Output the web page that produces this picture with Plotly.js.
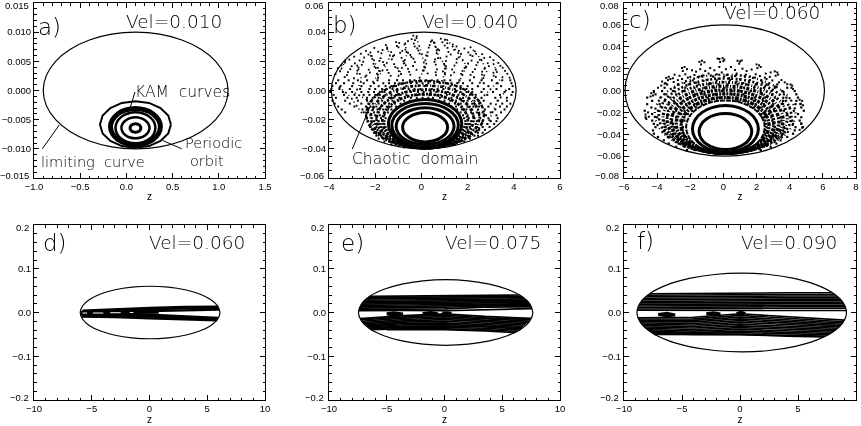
<!DOCTYPE html>
<html><head><meta charset="utf-8">
<script src="https://cdn.plot.ly/plotly-3.0.1.min.js"></script>
<style>html,body{margin:0;padding:0;background:#fff}#plot{width:861px;height:426px;filter:blur(0.35px)}</style>
</head><body><div id="plot"></div>
<script>
// ---------- limiting curves
const limitAZ=[1.1,1.066,.966,.807,.6,.359,.1,-.159,-.4,-.607,-.766,-.866,-.9,-.866,-.766,-.607,-.4,-.159,.1,.359,.6,.807,.966,1.066,1.1];
const limitAV=[0,.00259,.005,.00707,.00866,.00966,.01,.00966,.00866,.00707,.005,.00259,0,-.00259,-.005,-.00707,-.00866,-.00966,-.01,-.00966,-.00866,-.00707,-.005,-.00259,0];
const limitBZ=[4.1,3.96,3.56,2.93,2.1,1.14,.1,-.94,-1.9,-2.73,-3.36,-3.76,-3.9,-3.76,-3.36,-2.73,-1.9,-.94,.1,1.14,2.1,2.93,3.56,3.96,4.1];
const limitBV=[0,.0104,.02,.0283,.0346,.0386,.04,.0386,.0346,.0283,.02,.0104,0,-.0104,-.02,-.0283,-.0346,-.0386,-.04,-.0386,-.0346,-.0283,-.02,-.0104,0];
const limitCZ=[6.1,5.9,5.29,4.34,3.09,1.64,.08,-1.48,-2.93,-4.18,-5.13,-5.74,-5.94,-5.74,-5.13,-4.18,-2.93,-1.48,.08,1.64,3.09,4.34,5.29,5.9,6.1];
const limitCV=[0,.0155,.03,.0424,.052,.058,.06,.058,.052,.0424,.03,.0155,0,-.0155,-.03,-.0424,-.052,-.058,-.06,-.058,-.052,-.0424,-.03,-.0155,0];
const limitDZ=[6.1,5.89,5.29,4.33,3.08,1.62,.05,-1.52,-2.98,-4.23,-5.19,-5.79,-6,-5.79,-5.19,-4.23,-2.98,-1.52,.05,1.62,3.08,4.33,5.29,5.89,6.1];
const limitDV=[0,.0155,.03,.0424,.052,.058,.06,.058,.052,.0424,.03,.0155,0,-.0155,-.03,-.0424,-.052,-.058,-.06,-.058,-.052,-.0424,-.03,-.0155,0];
const limitEZ=[7.65,7.39,6.64,5.44,3.88,2.06,.1,-1.86,-3.68,-5.24,-6.44,-7.19,-7.45,-7.19,-6.44,-5.24,-3.68,-1.86,.1,2.06,3.88,5.44,6.64,7.39,7.65];
const limitEV=[0,.0194,.0375,.053,.065,.0724,.075,.0724,.065,.053,.0375,.0194,0,-.0194,-.0375,-.053,-.065,-.0724,-.075,-.0724,-.065,-.053,-.0375,-.0194,0];
const limitFZ=[9.18,8.87,7.97,6.53,4.67,2.49,.15,-2.19,-4.37,-6.23,-7.67,-8.57,-8.88,-8.57,-7.67,-6.23,-4.37,-2.19,.15,2.49,4.67,6.53,7.97,8.87,9.18];
const limitFV=[0,.0233,.045,.0636,.0779,.0869,.09,.0869,.0779,.0636,.045,.0233,0,-.0233,-.045,-.0636,-.0779,-.0869,-.09,-.0869,-.0779,-.0636,-.045,-.0233,0];

// ---------- KAM curves panel a
const kamA1Z=[.156,.152,.139,.120,.098,.076,.057,.044,.040,.044,.057,.076,.098,.120,.139,.152,.156];
const kamA1V=[-.00643,-.00615,-.00592,-.00576,-.00571,-.00576,-.00592,-.00615,-.00643,-.00671,-.00694,-.0071,-.00715,-.0071,-.00694,-.00671,-.00643];
const kamA2Z=[.25,.238,.205,.156,.098,.040,-.009,-.042,-.054,-.042,-.009,.040,.098,.156,.205,.238,.25];
const kamA2V=[-.0064,-.00571,-.00513,-.00474,-.0046,-.00474,-.00513,-.00571,-.0064,-.00709,-.00767,-.00806,-.0082,-.00806,-.00767,-.00709,-.0064];
const kamA3Z=[.314,.298,.251,.181,.098,.015,-.055,-.102,-.118,-.102,-.055,.015,.098,.181,.251,.298,.314];
const kamA3V=[-.0064,-.00538,-.00452,-.00394,-.00374,-.00394,-.00452,-.00538,-.0064,-.00742,-.00828,-.00886,-.00906,-.00886,-.00828,-.00742,-.0064];
const kamA4Z=[.368,.347,.289,.201,.098,-.005,-.093,-.151,-.172,-.151,-.093,-.005,.098,.201,.289,.347,.368];
const kamA4V=[-.0062,-.00501,-.00401,-.00334,-.0031,-.00334,-.00401,-.00501,-.0062,-.00739,-.00839,-.00906,-.0093,-.00906,-.00839,-.00739,-.0062];
const kamA5Z=[.482,.453,.369,.245,.098,-.049,-.173,-.257,-.286,-.257,-.173,-.049,.098,.245,.369,.453,.482];
const kamA5V=[-.00583,-.0043,-.003,-.00213,-.00183,-.00213,-.003,-.0043,-.00583,-.00736,-.00866,-.00953,-.00983,-.00953,-.00866,-.00736,-.00583];

// ---------- KAM curves panel b
const kamB1Z=[1.134,1.06,.849,.533,.16,-.213,-.529,-.74,-.814,-.74,-.529,-.213,.16,.533,.849,1.06,1.134];
const kamB1V=[-.0252,-.0213,-.0181,-.0159,-.0151,-.0159,-.0181,-.0213,-.0252,-.0291,-.0323,-.0345,-.0353,-.0345,-.0323,-.0291,-.0252];
const kamB2Z=[1.415,1.32,1.047,.641,.16,-.321,-.727,-1.0,-1.095,-1.0,-.727,-.321,.16,.641,1.047,1.32,1.415];
const kamB2V=[-.0245,-.0197,-.0156,-.0129,-.0119,-.0129,-.0156,-.0197,-.0245,-.0293,-.0334,-.0361,-.0371,-.0361,-.0334,-.0293,-.0245];
const kamB3Z=[1.6,1.49,1.178,.712,.16,-.392,-.858,-1.17,-1.28,-1.17,-.858,-.392,.16,.712,1.178,1.49,1.6];
const kamB3V=[-.0238,-.0181,-.0133,-.01,-.0089,-.01,-.0133,-.0181,-.0238,-.0295,-.0343,-.0376,-.0387,-.0376,-.0343,-.0295,-.0238];
const kamB4Z=[1.75,1.629,1.284,.769,.16,-.449,-.964,-1.309,-1.43,-1.309,-.964,-.449,.16,.769,1.284,1.629,1.75];
const kamB4V=[-.0229,-.0165,-.0111,-.0075,-.0062,-.0075,-.0111,-.0165,-.0229,-.0293,-.0347,-.0384,-.0396,-.0384,-.0347,-.0293,-.0229];

// ---------- KAM curves panel c
const kamC1Z=[1.71,1.589,1.244,.729,.12,-.489,-1.004,-1.349,-1.47,-1.349,-1.004,-.489,.12,.729,1.244,1.589,1.71];
const kamC1V=[-.0375,-.0312,-.0258,-.0223,-.021,-.0223,-.0258,-.0312,-.0375,-.0438,-.0492,-.0528,-.054,-.0528,-.0492,-.0438,-.0375];
const kamC2Z=[2.11,1.959,1.527,.882,.12,-.642,-1.287,-1.719,-1.87,-1.719,-1.287,-.642,.12,.882,1.527,1.959,2.11];
const kamC2V=[-.0351,-.0269,-.02,-.0154,-.0138,-.0154,-.02,-.0269,-.0351,-.0433,-.0502,-.0548,-.0564,-.0548,-.0502,-.0433,-.0351];

// ---------- pointer lines
const pointerKamZ=[.093,.017], pointerKamV=[-.00026,-.0042];
const pointerLimitZ=[-.91,-.726], pointerLimitV=[-.01,-.0059];
const pointerOrbitZ=[.6,.396], pointerOrbitV=[-.01,-.0086];
const pointerChaosZ=[-2.99,-2.225], pointerChaosV=[-.0401,-.0111];

// ---------- chaotic chains of panel b: speckled arcs around the KAM curves
const chainB1Z=[2.01,1.869,1.468,.869,.16,-.549,-1.148,-1.549,-1.69,-1.549,-1.148,-.549,.16,.869,1.468,1.869,2.01];
const chainB1V=[-.021,-.0139,-.0079,-.0039,-.0025,-.0039,-.0079,-.0139,-.021,-.0281,-.0341,-.0381,-.0395,-.0381,-.0341,-.0281,-.021];
const chainB2Z=[2.26,2.1,1.645,.964,.16,-.644,-1.325,-1.78,-1.94,-1.78,-1.325,-.644,.16,.964,1.645,2.1,2.26];
const chainB2V=[-.0195,-.0118,-.0054,-.001,.0005,-.001,-.0054,-.0118,-.0195,-.0272,-.0336,-.038,-.0395,-.038,-.0336,-.0272,-.0195];
const chainB3Z=[2.51,2.331,1.821,1.06,.16,-.74,-1.501,-2.011,-2.19,-2.011,-1.501,-.74,.16,1.06,1.821,2.331,2.51];
const chainB3V=[-.018,-.0098,-.0028,.0019,.0035,.0019,-.0028,-.0098,-.018,-.0262,-.0332,-.0379,-.0395,-.0379,-.0332,-.0262,-.018];
const chainB4Z=[2.71,2.516,1.963,1.137,.16,-.817,-1.643,-2.196,-2.39,-2.196,-1.643,-.817,.16,1.137,1.963,2.516,2.71];
const chainB4V=[-.0165,-.0077,-.0002,.0048,.0065,.0048,-.0002,-.0077,-.0165,-.0253,-.0328,-.0378,-.0395,-.0378,-.0328,-.0253,-.0165];
// strands of scattered points in the upper part of panel b
const strandBZ=[-2.22,-2,-1.78,-2.14,null,-1.5,-1.35,-1.57,-1.9,null,-.7,-.63,-.85,-1.06,null,-.23,.01,.16,-.13,null,.52,.73,1.09,.88,null,1.09,1.6,1.96,1.6,null,2.1,2.6,2.82,2.39,null,-2.79,-2.58,-2.86,-2.22,null,-3.58,-3.08,-2.58,null,3.54,2.96,2.39,null,3.68,3.25,2.82,null,-3.29,-3.51,null,3.11,3.32];
const strandBV=[.0267,.0187,.013,.005,null,.0302,.0233,.0165,.0085,null,.0329,.0245,.0153,.0073,null,.0366,.0256,.0153,.0073,null,.0336,.0245,.0153,.0062,null,.0352,.0256,.0165,.005,null,.0302,.021,.013,.0016,null,.0176,.0073,-.0018,-.0075,null,.0027,-.0041,-.0155,null,.0096,.0005,-.0087,null,.0005,-.0087,-.0247,null,.021,.013,null,.0187,.0107];
// scattered points of panel b read individually
const scatterBZ=[-.35,-.2,-.42,-.28,.46,.84,1.02,-1.1,-.96,-.58,-.33,.41,.57,.91,1.12,-1.54,-1.06,-.73,-.29,.36,.62,1.01,1.36,1.52,-2.04,-1.48,-.99,-.69,-.18,.32,.71,1.13,1.42,1.86,-2.4,-1.87,-1.68,-1.31,-.83,-.58,-.13,.27,.77,1.17,1.62,2.03,2.31,-2.62,-2.29,-1.73,-1.18,-.92,-.48,-.08,.21,.66,1.27,1.72,2.12,2.63,-2.91,-2.48,-2.18,-1.77,-1.23,-.86,-.43,.26,.72,1.09,1.62,2.21,2.72,2.97,-3.12,-2.68,-2.13,-1.82,-1.28,-.78,-.34,.17,.59,1.06,1.53,2.17,2.53,3.12,-3.31,-2.88,-2.52,-2.07,-1.66,-1.18,-.74,-.28,.21,.57,.98,1.52,2.02,2.44,2.87,3.33,-3.47,-3.02,-2.58,-2.03,-1.61,-1.13,-.68,-.36,.12,.62,1.07,1.43,1.92,2.38,2.92,3.42,-3.62,-3.08,-2.72,-2.28,-1.97,-1.48,-1.03,-.58,-.21,.16,.67,1.02,1.33,1.87,2.32,2.73,3.22,3.52,-3.52,-3.18,-2.77,-2.23,-1.83,-1.42,-.98,-.53,.07,.62,.93,1.42,1.78,2.22,2.63,3.12,3.62,-3.72,-3.22,-2.78,-2.38,-1.92,-1.33,-.88,-.48,.27,.63,1.02,1.28,1.72,2.13,2.62,3.13,3.72,3.82,-3.32,-2.92,-2.43,-1.87,2.28,2.68,3.22];
const scatterBV=[.0376,.0372,.0352,.0346,.0344,.0355,.0348,.0332,.0326,.0338,.0322,.0335,.0327,.0331,.0324,.0312,.0305,.0316,.0302,.0311,.0297,.0308,.0315,.0302,.0292,.0285,.0296,.0281,.0289,.0294,.0283,.0292,.0279,.0288,.0272,.0266,.0278,.0263,.0271,.0259,.0274,.0262,.0276,.0265,.0272,.0261,.0269,.0252,.0246,.0255,.0242,.0258,.0244,.0253,.0241,.0256,.0247,.0251,.0243,.0249,.0232,.0226,.0238,.0221,.0235,.0224,.0229,.0237,.0222,.0233,.0227,.0236,.0223,.0229,.0212,.0206,.0217,.0203,.0214,.0201,.0218,.0207,.0213,.0202,.0216,.0205,.0211,.0208,.0192,.0186,.0197,.0183,.0195,.0181,.0188,.0194,.0184,.0196,.0182,.0191,.0185,.0193,.0187,.0189,.0172,.0166,.0176,.0163,.0175,.0161,.0173,.0168,.0162,.0177,.0165,.0171,.0164,.0174,.0167,.0169,.0152,.0146,.0156,.0143,.0155,.0141,.0153,.0148,.0142,.0157,.0145,.0151,.0144,.0154,.0147,.0149,.0143,.0156,.0132,.0126,.0136,.0123,.0135,.0121,.0133,.0128,.0137,.0125,.0131,.0124,.0134,.0127,.0129,.0122,.0135,.0112,.0106,.0116,.0103,.0115,.0101,.0113,.0108,.0117,.0105,.0111,.0104,.0114,.0107,.0109,.0102,.0115,.0088,.0092,.0084,.0095,.0087,.0091,.0085,.0093];

// ---------- chaotic points, row by row: one V per row, several z
const chaosBRowV=[.007,.005,.003,.001,-.001,-.003,-.005,-.007,-.009,-.011,-.013,-.015,-.017,-.019,-.021,-.023,-.025,-.027,-.029,-.031,-.033,-.035,-.037,-.039];
const chaosBRowZ=[
[-3.6,-3.15,-2.75,-2.35,-1.9,-1.4,-1.05,-.8,-.5,-.3,-.05,.2,.45,.7,1,1.25,1.65,2.1,2.6,3.05,3.5,3.85],
[-3.7,-3.35,-2.95,-2.5,-2.05,-1.65,-1.4,-1.15,-.95,-.7,-.45,-.2,.05,.3,.55,.8,1.05,1.3,1.55,1.8,2.2,2.7,3.3,3.9],
[-3.85,-3.5,-3,-2.6,-2.2,-1.85,-1.55,-1.3,-1.1,-.65,-.25,.15,.5,.95,1.25,1.5,1.7,2,2.45,2.9,3.45,3.95],
[-3.9,-3.55,-3.1,-2.65,-2.25,-2,-1.7,-1.5,-1.25,-1.05,-.8,-.55,-.3,-.05,.2,.45,.7,.95,1.2,1.45,1.7,1.95,2.2,2.7,3.25,3.8],
[-3.95,-3.4,-3,-2.6,-2.3,-2.05,-1.8,-1.6,-1.35,-1.05,-.7,-.45,-.15,.1,.4,.65,.9,1.15,1.45,1.7,1.95,2.2,2.6,3.1,3.6,3.95],
[-3.8,-3.35,-2.9,-2.5,-2.25,-2,-1.8,-1.55,-1.3,-1.1,-.9,-.65,-.4,-.15,.1,.35,.6,.85,1.1,1.35,1.6,1.85,2.1,2.35,2.85,3.4,3.9],
[-3.7,-3.2,-2.8,-2.35,-2.1,-1.85,-1.65,-1.4,-1.2,-.95,-.7,-.45,-.2,.05,.3,.5,.8,1.05,1.3,1.55,1.8,2.05,2.3,2.6,3.2,3.7],
[-3.85,-3.3,-2.75,-2.35,-2.15,-1.9,-1.7,-1.45,-1.25,-1,-.75,-.5,.75,1,1.25,1.5,1.75,2,2.3,2.7,3.3,3.7],
[-3.75,-3.1,-2.6,-2.3,-2.1,-1.85,-1.6,-1.4,-1.15,-.9,-.7,1,1.2,1.45,1.7,1.95,2.2,2.5,3,3.5,3.85],
[-3.6,-2.9,-2.4,-2.2,-1.95,-1.75,-1.5,-1.3,-1.1,1.3,1.5,1.75,2,2.25,2.5,2.9,3.4,3.7],
[-3.45,-2.55,-2.3,-2.1,-1.9,-1.65,-1.45,-1.3,1.55,1.75,1.95,2.2,2.45,2.75,3.2,3.6],
[-3.3,-2.5,-2.3,-2.05,-1.85,-1.6,-1.45,1.7,1.9,2.15,2.4,2.65,3,3.45],
[-2.4,-2.2,-2,-1.8,-1.6,1.8,2,2.25,2.5,2.8,3.25],
[-2.35,-2.15,-1.95,-1.75,-1.55,1.85,2.05,2.3,2.55,2.9,3.3],
[-2.3,-2.05,-1.85,-1.6,1.9,2.15,2.4,2.65,3,3.25],
[-2.2,-2,-1.8,-1.6,1.9,2.1,2.35,2.6,2.85,3.15],
[-2.2,-1.95,-1.75,-1.55,1.85,2.1,2.4,2.65,2.95],
[-2.1,-1.9,-1.7,-1.5,1.8,2,2.25,2.5,2.75],
[-2.05,-1.85,-1.65,-1.45,1.75,1.95,2.15,2.45,2.65],
[-1.95,-1.75,-1.55,-1.35,1.6,1.8,2.05,2.3,2.45],
[-1.85,-1.65,-1.45,-1.2,1.45,1.65,1.9,2.1],
[-1.6,-1.4,-1.2,-1,-.85,1.2,1.4,1.6,1.85],
[-1.3,-1.1,-.9,-.7,-.5,.85,1.05,1.25,1.45],
[-.75,-.5,-.3,-.1,.1,.3,.5,.75]];

// ---------- chaotic chains of panel c
const chainC0Z=[2.49,2.31,1.796,1.028,.12,-.788,-1.556,-2.07,-2.25,-2.07,-1.556,-.788,.12,1.028,1.796,2.31,2.49];
const chainC0V=[-.0335,-.0242,-.0163,-.011,-.0091,-.011,-.0163,-.0242,-.0335,-.0429,-.0508,-.0561,-.0579,-.0561,-.0508,-.0429,-.0335];
const chainC1Z=[2.75,2.549,1.974,1.115,.1,-.915,-1.774,-2.349,-2.55,-2.349,-1.774,-.915,.1,1.115,1.974,2.549,2.75];
const chainC1V=[-.032,-.0222,-.014,-.0084,-.0065,-.0084,-.014,-.0222,-.032,-.0418,-.05,-.0556,-.0575,-.0556,-.05,-.0418,-.032];
const chainC2Z=[3.05,2.826,2.186,1.23,.1,-1.03,-1.986,-2.626,-2.85,-2.626,-1.986,-1.03,.1,1.23,2.186,2.826,3.05];
const chainC2V=[-.0303,-.0198,-.011,-.0051,-.003,-.0051,-.011,-.0198,-.0303,-.0407,-.0495,-.0554,-.0575,-.0554,-.0495,-.0407,-.0303];
const chainC3Z=[3.35,3.103,2.398,1.345,.1,-1.145,-2.198,-2.903,-3.15,-2.903,-2.198,-1.145,.1,1.345,2.398,3.103,3.35];
const chainC3V=[-.0285,-.0174,-.008,-.0017,.0005,-.0017,-.008,-.0174,-.0285,-.0396,-.049,-.0553,-.0575,-.0553,-.049,-.0396,-.0285];
const chainC4Z=[3.6,3.334,2.575,1.441,.1,-1.241,-2.375,-3.134,-3.4,-3.134,-2.375,-1.241,.1,1.441,2.575,3.334,3.6];
const chainC4V=[-.0268,-.015,-.005,.0017,.004,.0017,-.005,-.015,-.0268,-.0385,-.0485,-.0552,-.0575,-.0552,-.0485,-.0385,-.0268];
const chainC5Z=[3.85,3.565,2.751,1.536,.1,-1.336,-2.551,-3.365,-3.65,-3.365,-2.551,-1.336,.1,1.536,2.751,3.565,3.85];
const chainC5V=[-.025,-.0126,-.002,.005,.0075,.005,-.002,-.0126,-.025,-.0375,-.048,-.055,-.0575,-.055,-.048,-.0375,-.025];
const chainC6Z=[4.1,3.796,2.928,1.632,.1,-1.432,-2.728,-3.596,-3.9,-3.596,-2.728,-1.432,.1,1.632,2.928,3.796,4.1];
const chainC6V=[-.0233,-.0101,.001,.0084,.011,.0084,.001,-.0101,-.0233,-.0364,-.0475,-.0549,-.0575,-.0549,-.0475,-.0364,-.0233];
const chainC7Z=[4.35,4.027,3.105,1.728,.1,-1.528,-2.905,-3.827,-4.15,-3.827,-2.905,-1.528,.1,1.728,3.105,4.027,4.35];
const chainC7V=[-.0215,-.0077,.004,.0118,.0145,.0118,.004,-.0077,-.0215,-.0353,-.047,-.0548,-.0575,-.0548,-.047,-.0353,-.0215];
// scattered points of panel c read individually
const scatterCZ=[-.35,-.25,-.05,.05,-.2,0,-1.45,-1.3,-1.15,-1.35,.85,1,1.1,.95,2,2.15,2.25,2.05,-2.5,-2.35,-2.2,-2.45,3.1,3.25,3.3,3.15,-3.45,-3.3,-3.35,-3.2,4.05,4.15,4.1,4.2,-4.35,-4.2,-4.4,-4.25,4.6,4.75,4.65,4.8,-4.55,-4.7,-4.5,-4.65,4.7,4.75,4.6,-1.9,-1.65,-1.4,-1.1,-.8,-.55,-.25,.15,.45,.7,1.15,1.4,1.7,2.55,2.85,-2.95,-2.65,-2.3,-2,-1.75,-1.45,-1.2,-.9,-.65,-.4,-.1,.2,.5,.8,1.05,1.35,1.6,1.95,2.2,2.5,2.8,3.5,3.7,-3.7,-3.5,-3.05,-2.75,-2.5,-2.15,-1.85,-1.55,-1.3,-.95,-.6,-.3,.05,.35,.7,1,1.3,1.6,1.9,2.3,2.6,2.95,3.35,3.85,-3.95,-3.75,-3.55,-3,-2.7,-2.35,-2,-1.65,-1.2,-.75,-.4,0,.4,.8,1.2,1.55,1.95,2.35,2.7,3.1,3.5,3.8];
const scatterCV=[.0292,.0288,.0296,.0282,.0262,.0268,.0262,.0272,.0258,.0238,.0272,.0265,.0275,.0245,.0238,.023,.0215,.0205,.0205,.0215,.0195,.0178,.0175,.0165,.0145,.0135,.0115,.0125,.0095,.0105,.0055,.0045,.0025,.0015,-.0025,-.0015,-.0055,-.0045,-.0085,-.0095,-.012,-.0135,-.02,-.022,-.024,-.026,-.03,-.034,-.036,.0185,.0172,.0195,.0178,.0205,.0185,.0215,.0195,.0215,.0188,.02,.0178,.0192,.0155,.0165,.0145,.0135,.0148,.0125,.0142,.0128,.0138,.0155,.013,.0148,.0165,.0142,.0128,.0155,.0138,.0145,.0128,.0148,.0132,.0118,.0125,.0095,.0075,.0082,.0068,.0112,.0095,.0105,.0118,.0092,.0122,.0135,.0098,.0125,.0108,.0128,.0112,.0132,.0102,.0125,.0095,.0118,.0088,.0105,.0092,.0075,.0058,.0025,.0045,.0062,.0078,.0055,.0068,.0082,.0072,.0088,.0065,.0092,.0078,.0095,.0082,.0068,.0075,.0058,.0072,.0052,.0038];
const chaosCRowV=[.0055,.0025,-.0005,-.0035,-.0065,-.0095,-.0125,-.0155,-.0185,-.0215,-.0245,-.0275,-.0305,-.0335,-.0365,-.0395,-.0425,-.0455,-.0485,-.0515,-.0545];
const chaosCRowZ=[
[-3.4,-2.75,-2.1,-1.5,-.9,-.3,.25,.85,1.4,2,2.6,3.25],
[-3.55,-2.95,-2.3,-1.75,-1.15,-.55,.05,.65,1.25,1.85,2.45,3.1,3.85],
[-4.2,-3.7,-3.05,-2.45,-1.85,-1.3,-.7,-.1,.5,1.05,1.65,2.25,2.9,3.55,4.3],
[-4.1,-3.45,-2.85,-2.25,-1.7,-1.15,-.55,.05,.6,1.2,1.75,2.35,2.95,3.65,4.4],
[-4.6,-3.8,-3.2,-2.6,-2.05,-1.5,-.95,-.35,.25,.8,1.35,1.9,2.5,3.1,3.8,4.5],
[-4.3,-3.55,-3,-2.45,-1.9,-1.35,-.85,.85,1.35,1.85,2.4,3,3.6,4.4],
[-4.6,-3.85,-3.3,-2.8,-2.25,-1.75,-1.3,1.5,1.95,2.45,3,3.6,4.35,4.65],
[-4.35,-3.7,-3.15,-2.6,-2.1,-1.65,1.85,2.3,2.8,3.35,4,4.7],
[-4.75,-3.95,-3.35,-2.85,-2.35,-1.9,2.1,2.55,3.05,3.65,4.25,4.85],
[-4.3,-3.6,-3.05,-2.55,-2.15,2.3,2.75,3.25,3.85,4.5],
[-4.7,-4,-3.4,-2.85,-2.35,2.45,2.9,3.45,4,4.7],
[-4.3,-3.6,-3.1,-2.6,-2.35,2.5,2.95,3.5,4.15,4.6],
[-4.2,-3.55,-3.05,-2.55,2.55,3,3.55,4.2,4.7],
[-4.1,-3.5,-2.95,-2.45,2.6,3.1,3.65,4.35,4.8],
[-4.25,-3.55,-3,-2.45,2.55,3.05,3.6,4.3],
[-4.2,-3.5,-2.95,-2.4,2.5,3,3.6,4.2],
[-3.95,-3.35,-2.75,-2.25,2.4,2.9,3.5,3.85],
[-3.6,-3,-2.5,2.3,2.85,3.45],
[-3.3,-2.7,-2.2,2.05,2.6,3.2],
[-2.85,-2.35,-1.85,1.8,2.3,2.85],
[-2.2,-1.75,-1.3,1.25,1.75,2.25]];

// ---------- orbits of panels d, e, f: [z left, V left, V at three mid z, V right, z right]
const orbitDMidZ=[-3,0,3];
const orbitDRows=[
[-5.8,.004,.0075,.0105,.0125,.013,5.95],
[-5.9,.001,.0045,.0075,.0095,.0095,6],
[-5.95,0,.0015,.004,.006,.0065,6.03],
[-5.95,-.003,-.003,-.005,-.009,-.0125,5.95],
[-5.9,-.006,-.0065,-.009,-.012,-.0155,5.9],
[-5.85,-.0095,-.0105,-.0135,-.015,-.018,5.85]];
const orbitDFillZ=[-5.9,-3,.8], orbitDFillV=[-.0015,-.001,0];
const gapDZ=[-5.8,-5.4,null,-4.9,-4,null,-3.4,-2.5,null,-1.7,-1.4,null,.9,2.4];
const gapDV=[-.0012,-.0012,null,-.0012,-.0012,null,-.0005,-.0005,null,0,0,null,0,-.0015];

const orbitEMidZ=[-3.5,0,3.5];
const orbitERows=[
[-6.47,.037,.038,.039,.040,.040,6.49],
[-6.63,.034,.035,.036,.037,.037,6.67],
[-6.77,.031,.032,.033,.034,.034,6.83],
[-6.9,.028,.029,.030,.031,.031,6.97],
[-7.02,.025,.026,.027,.028,.028,7.1],
[-7.12,.022,.023,.024,.025,.0255,7.2],
[-7.2,.019,.020,.021,.0225,.023,7.28],
[-7.28,.016,.017,.018,.020,.0205,7.36],
[-7.33,.013,.014,.015,.0175,.018,7.43],
[-7.38,.010,.011,.012,.015,.0155,7.49],
[-7.42,.007,.008,.0085,.0125,.013,7.53],
[-7.44,.004,.005,.004,.0065,.009,7.57],
[-7.31,-.014,-.007,-.003,-.009,-.0135,7.48],
[-7.25,-.017,-.010,-.006,-.012,-.0165,7.4],
[-7.18,-.020,-.013,-.0095,-.015,-.0195,7.32],
[-7.07,-.023,-.016,-.013,-.018,-.0225,7.22],
[-6.98,-.026,-.019,-.0165,-.021,-.0255,7.1],
[-6.86,-.029,-.022,-.020,-.024,-.0285,6.97],
[-6.77,-.031,-.025,-.0235,-.027,-.0315,6.83],
[-6.68,-.033,-.028,-.027,-.030,-.0345,6.75],
[-6.58,-.035,-.031,-.0305,-.033,-.0375,6.62],
[-6.47,-.037,-.034,-.034,-.036,-.0405,6.45],
[-6.35,-.039,-.037,-.0375,-.039,-.0435,6.25],
[-5,-.039,-.039,-.039,-.042,-.046,6.06]];
const fishEZ=[-5,-4.4,-3.6,-4.4,-5,null,-1.9,-1.2,-.6,-1.2,-1.9,null,-.2,.3,.6];
const fishEV=[-.003,-.0005,-.0035,-.0065,-.003,null,-.002,0,-.0025,-.0045,-.002,null,-.001,-.0005,-.002];

const orbitFMidZ=[-4,0,4];
const orbitFRows=[
[-7.78,.043,.044,.045,.045,.045,7.97],
[-7.97,.0395,.0405,.0413,.0413,.0413,8.17],
[-8.13,.036,.037,.0376,.0376,.0376,8.36],
[-8.27,.0325,.0335,.034,.034,.034,8.51],
[-8.4,.029,.030,.0305,.0305,.0305,8.65],
[-8.51,.0255,.0265,.027,.027,.027,8.77],
[-8.6,.022,.023,.0235,.0235,.0235,8.86],
[-8.69,.0185,.0195,.02,.02,.02,8.95],
[-8.75,.015,.016,.0165,.0165,.0165,9.03],
[-8.8,.0115,.0125,.013,.013,.013,9.09],
[-8.84,.008,.009,.0095,.0095,.0095,9.13],
[-8.87,.005,.005,.0035,.0045,.0045,9.17],
[-8.8,-.012,-.011,-.003,-.010,-.0175,9.01],
[-8.75,-.015,-.0145,-.0065,-.0135,-.021,8.93],
[-8.7,-.018,-.018,-.0105,-.017,-.024,8.85],
[-8.63,-.021,-.0215,-.0145,-.0205,-.027,8.77],
[-8.55,-.024,-.025,-.0185,-.024,-.030,8.66],
[-8.47,-.027,-.0285,-.0225,-.0275,-.033,8.56],
[-8.36,-.030,-.032,-.0265,-.031,-.036,8.43],
[-8.26,-.033,-.0355,-.0305,-.0345,-.039,8.29],
[-8.13,-.036,-.039,-.0345,-.038,-.042,8.13],
[-7.99,-.039,-.0425,-.0385,-.0415,-.045,7.97],
[-7.83,-.042,-.046,-.0425,-.045,-.048,7.79],
[-7.67,-.045,-.048,-.046,-.0485,-.051,7.59],
[-7.49,-.048,-.05,-.05,-.052,-.054,7.37],
[-7.36,-.05,-.0505,-.0505,-.054,-.056,7.22]];
const fishFZ=[-7.05,-6.3,-5.6,-6.3,-7.05,null,-2.9,-2.3,-1.7,-2.3,-2.9,null,-.3,.1,.45,.1,-.3];
const fishFV=[-.0045,-.002,-.0055,-.0075,-.0045,null,-.003,-.0005,-.0035,-.0055,-.003,null,-.002,.0005,-.002,-.0045,-.002];

// ---------- axes, tick labels, texts
const xRanges=[[-1,1.5],[-4,6],[-6,8],[-10,10],[-10,10],[-10,10]];
const yRanges=[[-.015,.015],[-.06,.06],[-.08,.08],[-.2,.2],[-.2,.2],[-.2,.2]];
const xDticks=[.5,2,2,5,5,5], xMinor=[.1,.5,.5,1,1,1];
const yMinor=[.001,.005,.005,.02,.02,.02];
const xFormats=['.1f','d','d','d','d','d'];
const yTickVals=[[-.015,-.01,-.005,0,.005,.01,.015],[-.06,-.04,-.02,0,.02,.04,.06],[-.08,-.06,-.04,-.02,0,.02,.04,.06,.08],[-.2,-.1,0,.1,.2],[-.2,-.1,0,.1,.2],[-.2,-.1,0,.1,.2]];
const yTickText=[['','−0.010','−0.005','0.000','0.005','0.010',''],['','−0.04','−0.02','0.00','0.02','0.04',''],['','−0.06','−0.04','−0.02','0.00','0.02','0.04','0.06',''],['','−0.1','0.0','0.1',''],['','−0.1','0.0','0.1',''],['','−0.1','0.0','0.1','']];
const yEndLow=['−0.015','−0.06','−0.08','−0.2','−0.2','−0.2'];
const yEndHigh=['0.015','0.06','0.08','0.2','0.2','0.2'];
const panelLetters=['a)','b)','c)','d)','e)','f)'];
const velocityTexts=['Vel=0.010','Vel=0.040','Vel=0.060','Vel=0.060','Vel=0.075','Vel=0.090'];

// ---------- placement (pixels)
const boxX=[[34,265],[329,560],[624,856],[34,265],[329,560],[624,856]];
const boxY=[[3,178],[3,178],[3,178],[225,400],[225,400],[225,400]];
const letterAt=[[49,27],[345,25],[640,20],[55,243],[352,243],[645,241]];
const velAt=[[174,21],[470,21],[772,13],[197,242],[493,242],[789,242]];
const W=861,H=426;

const ax=i=>i===0?'':String(i+1);
const traces=[];
function line(i,x,y,width,opt={}){
  traces.push({type:'scatter',mode:'lines',xaxis:'x'+ax(i),yaxis:'y'+ax(i),x,y,showlegend:false,hoverinfo:'skip',
    line:Object.assign({color:'#000',width},opt)});
}
function pts(i,x,y,size){
  traces.push({type:'scatter',mode:'markers',xaxis:'x'+ax(i),yaxis:'y'+ax(i),x,y,showlegend:false,hoverinfo:'skip',
    marker:{symbol:'square',color:'#000',size,line:{width:0}}});
}
function dots(i,rowV,rowZ,size){
  const x=[],y=[];
  rowV.forEach((v,r)=>rowZ[r].forEach(z=>{x.push(z);y.push(v);}));
  pts(i,x,y,size);
}
function orbits(i,rows,mid,width){
  const x=[],y=[];
  rows.forEach(r=>{x.push(r[0],mid[0],mid[1],mid[2],r[6],null);y.push(r[1],r[2],r[3],r[4],r[5],null);});
  line(i,x,y,width);
}
const smooth={shape:'spline',smoothing:1};
const chain=dash=>({shape:'spline',smoothing:1,dash});

// panel a
line(0,limitAZ,limitAV,1.2,smooth);
line(0,kamA1Z,kamA1V,3,smooth);
line(0,kamA2Z,kamA2V,2.5,smooth);
line(0,kamA3Z,kamA3V,2.5,smooth);
line(0,kamA4Z,kamA4V,5,smooth);
line(0,kamA5Z,kamA5V,2);
line(0,pointerKamZ,pointerKamV,1);
line(0,pointerLimitZ,pointerLimitV,1);
line(0,pointerOrbitZ,pointerOrbitV,1);
// panel b
pts(1,scatterBZ,scatterBV,1.8);
dots(1,chaosBRowV,chaosBRowZ,2);
line(1,strandBZ,strandBV,1.6,{dash:'2px,2.5px,1px,3px'});
line(1,chainB1Z,chainB1V,2.8,chain('3px,1px,2px,1.5px'));
line(1,chainB2Z,chainB2V,2.8,chain('2px,1.5px,3px,1.5px'));
line(1,chainB3Z,chainB3V,2.6,chain('3px,1.5px,1px,2px'));
line(1,chainB4Z,chainB4V,2.4,chain('4px,1px,2px,2px'));
line(1,limitBZ,limitBV,1.2,smooth);
line(1,kamB1Z,kamB1V,3,smooth);
line(1,kamB2Z,kamB2V,3,smooth);
line(1,kamB3Z,kamB3V,3,smooth);
line(1,kamB4Z,kamB4V,3,smooth);
line(1,pointerChaosZ,pointerChaosV,1);
// panel c
pts(2,scatterCZ,scatterCV,2);
dots(2,chaosCRowV,chaosCRowZ,2.2);
line(2,chainC7Z,chainC7V,2.2,chain('2px,2.5px,1px,3px'));
line(2,chainC6Z,chainC6V,2.6,chain('2px,2px,2px,2.5px'));
line(2,chainC5Z,chainC5V,3,chain('2px,1.5px,1px,2px'));
line(2,chainC4Z,chainC4V,3.2,chain('3px,1.5px,1px,1.5px'));
line(2,chainC3Z,chainC3V,3.4,chain('2px,1px,3px,1.5px'));
line(2,chainC2Z,chainC2V,3.4,chain('3px,1px,2px,1.2px'));
line(2,chainC1Z,chainC1V,3.4,chain('4px,1px,2px,1px'));
line(2,chainC0Z,chainC0V,2,chain('5px,1px'));
line(2,limitCZ,limitCV,1.2,smooth);
line(2,kamC1Z,kamC1V,3,smooth);
line(2,kamC2Z,kamC2V,3,smooth);
// panel d
line(3,limitDZ,limitDV,1.2,smooth);
orbits(3,orbitDRows,orbitDMidZ,2.4);
line(3,orbitDFillZ,orbitDFillV,2.5);
line(3,gapDZ,gapDV,1,{color:'#fff'});
// panel e
line(4,limitEZ,limitEV,1.2,smooth);
orbits(4,orbitERows,orbitEMidZ,1.7);
line(4,fishEZ,fishEV,3);
// panel f
line(5,limitFZ,limitFV,1.2,smooth);
orbits(5,orbitFRows,orbitFMidZ,1.6);
line(5,fishFZ,fishFV,3);

const tickFont={family:'Liberation Sans',size:9.5,color:'#000'};
const thin={family:"'DejaVu Sans Light','DejaVu Sans'",color:'#000'};
const layout={width:W,height:H,margin:{l:0,r:0,t:0,b:0},paper_bgcolor:'#fff',plot_bgcolor:'#fff',showlegend:false,annotations:[]};
const note=(text,px,py,size)=>layout.annotations.push({xref:'paper',yref:'paper',x:px/W,y:1-py/H,xanchor:'center',yanchor:'middle',showarrow:false,text,font:Object.assign({size},thin)});

for(let i=0;i<6;i++){
  layout['xaxis'+ax(i)]={domain:[boxX[i][0]/W,boxX[i][1]/W],range:xRanges[i],anchor:'y'+ax(i),
    dtick:xDticks[i],tick0:0,tickformat:xFormats[i],ticks:'inside',ticklen:5,tickwidth:1,tickcolor:'#000',
    showline:true,linecolor:'#000',linewidth:1,mirror:'allticks',showgrid:false,zeroline:false,tickfont:tickFont,
    minor:{ticks:'inside',ticklen:2.5,dtick:xMinor[i],tick0:0,tickwidth:1,tickcolor:'#000',showgrid:false},
    title:{text:'z',font:{family:'Liberation Sans',size:10,color:'#000'},standoff:1}};
  layout['yaxis'+ax(i)]={domain:[1-boxY[i][1]/H,1-boxY[i][0]/H],range:yRanges[i],anchor:'x'+ax(i),
    tickmode:'array',tickvals:yTickVals[i],ticktext:yTickText[i],ticks:'inside',ticklen:5,tickwidth:1,tickcolor:'#000',
    showline:true,linecolor:'#000',linewidth:1,mirror:'allticks',showgrid:false,zeroline:false,tickfont:tickFont,
    minor:{ticks:'inside',ticklen:2.5,tickmode:'linear',dtick:yMinor[i],tick0:0,tickwidth:1,tickcolor:'#000',showgrid:false}};
  const d='domain';
  [[yEndHigh[i],1,-3],[yEndLow[i],0,3]].forEach(([text,yf,ys])=>layout.annotations.push({
    xref:'x'+ax(i)+' '+d,yref:'y'+ax(i)+' '+d,x:0,y:yf,xanchor:'right',yanchor:'middle',xshift:-3,yshift:ys,showarrow:false,text,font:tickFont}));
  note(panelLetters[i],letterAt[i][0],letterAt[i][1],23);
  note(velocityTexts[i],velAt[i][0],velAt[i][1],18.5);
}
note('KAM\u00a0 curves',182,92,15.5);
note('Periodic',213,143,14.5);
note('orbit',207,161,14.5);
note('limiting\u00a0 curve',93,162,14.5);
note('Chaotic\u00a0 domain',415,159,15.5);

Plotly.newPlot('plot',traces,layout,{staticPlot:true,displayModeBar:false});
</script></body></html>
